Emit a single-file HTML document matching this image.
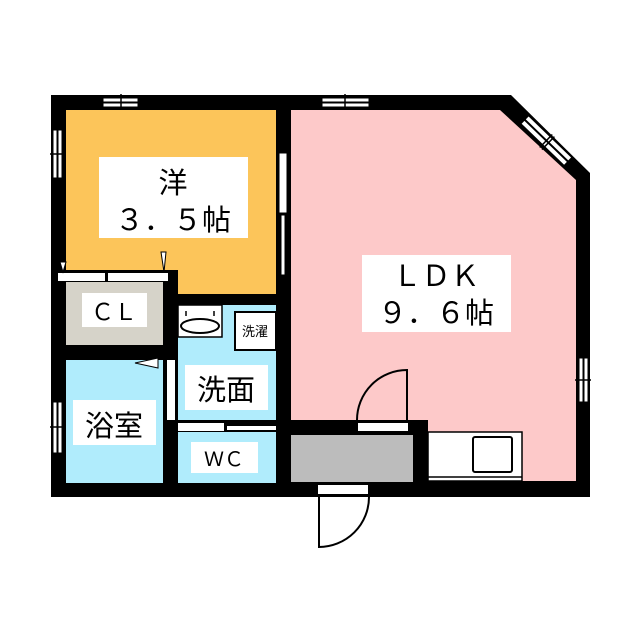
<!DOCTYPE html>
<html><head><meta charset="utf-8"><style>
html,body{margin:0;padding:0;background:#fff;}
svg{display:block;}
text{font-family:"Liberation Sans","Noto Sans CJK JP",sans-serif;fill:#000;}
</style></head><body>
<svg width="640" height="640" viewBox="0 0 640 640" xmlns="http://www.w3.org/2000/svg">
<rect width="640" height="640" fill="#fff"/>
<polygon points="51,95 511,95 590,173 590,497 51,497" fill="#000"/>
<polygon points="291,110 500,110 576,180 576,483 291,483" fill="#fdc9c9"/>
<rect x="66" y="110" width="210" height="184" fill="#fcc55a"/>
<rect x="51" y="270" width="127" height="12" fill="#000"/>
<rect x="163" y="270" width="15" height="227" fill="#000"/>
<rect x="163" y="294" width="113" height="11" fill="#000"/>
<rect x="66" y="282" width="97" height="63" fill="#d6d3c9"/>
<rect x="66" y="360" width="97" height="123" fill="#b0ecfc"/>
<rect x="178" y="305" width="98" height="115" fill="#b0ecfc"/>
<rect x="178" y="432" width="98" height="51" fill="#b0ecfc"/>
<rect x="276" y="420" width="152" height="77" fill="#000"/>
<rect x="291" y="435" width="122" height="47" fill="#bcbcbc"/>
<rect x="428" y="432" width="94" height="49" fill="#fff" stroke="#000" stroke-width="1.5"/>
<line x1="428" y1="477" x2="522" y2="477" stroke="#000" stroke-width="1.5"/>
<rect x="473" y="437" width="39" height="35" rx="2" fill="#fff" stroke="#000" stroke-width="2"/>
<rect x="428" y="481" width="148" height="2" fill="#000"/>
<rect x="58" y="273" width="47" height="8" fill="#fff"/>
<rect x="108" y="273" width="60" height="8" fill="#fff"/>
<polygon points="63,272 60,262 66,262" fill="#fff" stroke="#000" stroke-width="1"/>
<polygon points="164,272 161,252 166,252" fill="#fff" stroke="#000" stroke-width="1"/>
<rect x="167" y="360" width="8" height="60" fill="#fff"/>
<polygon points="135,363 158,358 158,368" fill="#fff" stroke="#000" stroke-width="1"/>
<rect x="178" y="423" width="46" height="8" fill="#fff"/>
<rect x="227" y="426" width="49" height="4" fill="#fff"/>
<rect x="178" y="305" width="44" height="32" fill="#fff" stroke="#000" stroke-width="1.5"/>
<ellipse cx="200" cy="326" rx="19" ry="7" fill="#fff" stroke="#000" stroke-width="2"/>
<line x1="186" y1="311" x2="186" y2="316" stroke="#000" stroke-width="1.5"/>
<line x1="214" y1="311" x2="214" y2="316" stroke="#000" stroke-width="1.5"/>
<rect x="235" y="312" width="41" height="38" fill="#fff" stroke="#000" stroke-width="2"/>
<text x="255" y="336" font-size="13" text-anchor="middle">洗濯</text>
<rect x="358" y="423" width="50" height="8" fill="#fff"/>
<path d="M407,420 L407,370 A50,50 0 0 0 357,420" fill="none" stroke="#000" stroke-width="2"/>
<rect x="318" y="485" width="50" height="9" fill="#fff"/>
<path d="M319,497 L319,547 A50,50 0 0 0 369,497" fill="#fff" stroke="#000" stroke-width="2"/>
<g fill="#fff" stroke="#000" stroke-width="1">
<rect x="103" y="98" width="35" height="4"/><rect x="103" y="103" width="35" height="4"/>
<rect x="322" y="98" width="47" height="4"/><rect x="322" y="103" width="47" height="4"/>
<rect x="53" y="130" width="4" height="48"/><rect x="58" y="130" width="4" height="48"/>
<rect x="53" y="402" width="4" height="51"/><rect x="58" y="402" width="4" height="51"/>
<rect x="579" y="358" width="4" height="44"/><rect x="584" y="358" width="4" height="44"/>
<rect x="279" y="153" width="8" height="60"/>
<rect x="281" y="215" width="4" height="60"/>
</g>
<g stroke="#000" stroke-width="1.5">
<line x1="121" y1="94" x2="121" y2="110"/>
<line x1="345" y1="94" x2="345" y2="110"/>
<line x1="50" y1="154" x2="66" y2="154"/>
<line x1="50" y1="427" x2="66" y2="427"/>
<line x1="575" y1="380" x2="591" y2="380"/>
</g>
<g transform="translate(546,141) rotate(44)">
<rect x="-30" y="-6" width="60" height="5" fill="#fff" stroke="#000" stroke-width="1"/>
<rect x="-30" y="0" width="60" height="5" fill="#fff" stroke="#000" stroke-width="1"/>
<line x1="0" y1="-9" x2="0" y2="9" stroke="#000" stroke-width="1.5"/>
<line x1="3" y1="-9" x2="3" y2="9" stroke="#000" stroke-width="1.5"/>
</g>
<rect x="99" y="157" width="149" height="81" fill="#fff"/>
<text x="173" y="193" font-size="29" text-anchor="middle">洋</text>
<text x="173" y="230" font-size="29" text-anchor="middle">３．５帖</text>
<rect x="362" y="255" width="149" height="77" fill="#fff"/>
<text x="436" y="286" font-size="29" text-anchor="middle">ＬＤＫ</text>
<text x="436" y="323" font-size="29" text-anchor="middle">９．６帖</text>
<rect x="82" y="293" width="65" height="34" fill="#fff"/>
<text x="114" y="320" font-size="23" text-anchor="middle">ＣＬ</text>
<rect x="185" y="365" width="83" height="45" fill="#fff"/>
<text x="226" y="400" font-size="29" text-anchor="middle">洗面</text>
<rect x="73" y="400" width="83" height="45" fill="#fff"/>
<text x="114" y="436" font-size="29" text-anchor="middle">浴室</text>
<rect x="191" y="442" width="67" height="31" fill="#fff"/>
<text x="224" y="466" font-size="20" text-anchor="middle">ＷＣ</text>
</svg>
</body></html>
